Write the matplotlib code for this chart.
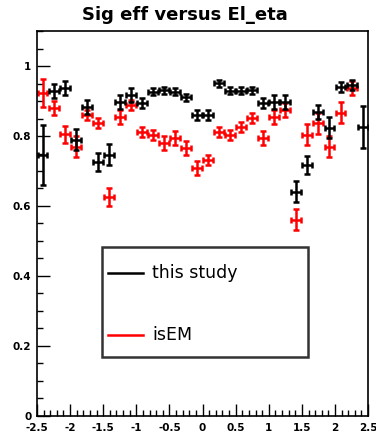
import numpy as np
import matplotlib
matplotlib.use("Agg")
import matplotlib.pyplot as plt
from matplotlib.lines import Line2D
from matplotlib.patches import Rectangle
from matplotlib.ticker import MultipleLocator, FuncFormatter

# 30 eta bins from -2.5 to 2.5
edges = np.linspace(-2.5, 2.5, 31)
eta = 0.5 * (edges[:-1] + edges[1:])

study_eff = [0.746, 0.930, 0.937, 0.790, 0.883, 0.726, 0.746, 0.897, 0.917, 0.894,
             0.926, 0.931, 0.926, 0.911, 0.860, 0.860, 0.951, 0.929, 0.929, 0.931,
             0.894, 0.897, 0.897, 0.640, 0.717, 0.869, 0.823, 0.940, 0.946, 0.826]
study_err = [0.085, 0.02, 0.02, 0.03, 0.02, 0.025, 0.03, 0.02, 0.02, 0.015,
             0.01, 0.01, 0.01, 0.01, 0.015, 0.015, 0.01, 0.01, 0.01, 0.01,
             0.015, 0.02, 0.02, 0.03, 0.025, 0.02, 0.03, 0.015, 0.015, 0.06]

isem_eff = [0.923, 0.880, 0.805, 0.770, 0.860, 0.837, 0.626, 0.854, 0.889, 0.811,
            0.803, 0.780, 0.794, 0.766, 0.709, 0.731, 0.811, 0.803, 0.826, 0.851,
            0.794, 0.854, 0.874, 0.560, 0.803, 0.837, 0.769, 0.866, 0.937, np.nan]
isem_err = [0.04, 0.02, 0.025, 0.03, 0.015, 0.015, 0.025, 0.02, 0.015, 0.015,
            0.015, 0.02, 0.02, 0.02, 0.02, 0.015, 0.015, 0.015, 0.015, 0.015,
            0.02, 0.02, 0.02, 0.03, 0.03, 0.03, 0.03, 0.03, 0.02, 0.0]

xerr = 0.075

plt.rcParams['font.family'] = ['DejaVu Sans']

fig = plt.figure(figsize=(3.76, 4.41), dpi=100)
ax = fig.add_axes([0.0984, 0.0567, 0.8806, 0.8730])

ax.errorbar(eta, isem_eff, xerr=xerr, yerr=isem_err, fmt='none', ecolor='#ff0000',
            elinewidth=1.8, capsize=2, capthick=1.8)
ax.errorbar(eta, study_eff, xerr=xerr, yerr=study_err, fmt='none', ecolor='black',
            elinewidth=1.8, capsize=2, capthick=1.8)

ax.set_xlim(-2.5, 2.5)
ax.set_ylim(0, 1.1)

ax.xaxis.set_major_locator(MultipleLocator(0.5))
ax.xaxis.set_minor_locator(MultipleLocator(0.1))
ax.yaxis.set_major_locator(MultipleLocator(0.2))
ax.yaxis.set_minor_locator(MultipleLocator(0.05))
fmt = FuncFormatter(lambda v, p: "%g" % round(v, 2))
ax.xaxis.set_major_formatter(fmt)
ax.yaxis.set_major_formatter(fmt)

ax.tick_params(which='both', direction='in', top=False, right=False, color='black')
ax.tick_params(which='major', length=9, width=1, labelsize=7.5)
ax.tick_params(axis='x', which='major', pad=5)
ax.tick_params(axis='y', which='major', pad=4)
ax.tick_params(which='minor', length=4.5, width=1)
fig.canvas.draw()
for lab in ax.get_xticklabels() + ax.get_yticklabels():
    lab.set_fontweight('bold')
xlabs = ax.get_xticklabels()
xlabs[-1].set_horizontalalignment('right')
xlabs[0].set_horizontalalignment('left')
ax.get_yticklabels()[0].set_verticalalignment('bottom')

for s in ax.spines.values():
    s.set_linewidth(1.2)

fig.text(0.492, 0.966, "Sig eff versus El_eta", ha='center', va='center',
         fontsize=13, fontweight='bold')

# legend box
x0, x1, y0, y1 = 0.196, 0.819, 0.153, 0.439
ax.add_patch(Rectangle((x0, y0), x1 - x0, y1 - y0, transform=ax.transAxes,
                       facecolor='white', edgecolor='#333333', linewidth=1.8, zorder=5))
ax.add_line(Line2D([0.214, 0.320], [0.371, 0.371], transform=ax.transAxes,
                   color='black', linewidth=1.8, zorder=6))
ax.add_line(Line2D([0.214, 0.320], [0.210, 0.210], transform=ax.transAxes,
                   color='#ff0000', linewidth=1.8, zorder=6))
ax.text(0.347, 0.371, "this study", transform=ax.transAxes, va='center',
        fontsize=12.5, zorder=6)
ax.text(0.347, 0.210, "isEM", transform=ax.transAxes, va='center',
        fontsize=12.5, zorder=6)

fig.savefig("out.png", dpi=100)
